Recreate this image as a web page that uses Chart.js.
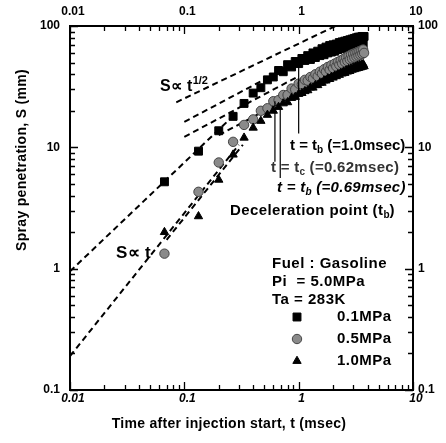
<!DOCTYPE html>
<html><head><meta charset="utf-8">
<script src="https://cdn.jsdelivr.net/npm/chart.js@4.4.0/dist/chart.umd.min.js"></script>
<style>html,body{margin:0;padding:0;background:#fff}#wrap{width:446px;height:443px;position:relative}</style>
</head><body><div id="wrap"><canvas id="c"></canvas></div>
<script>
// ---- data (time in msec, penetration in mm) ----
const times = [0.067,0.133,0.2,0.267,0.333,0.4,0.467,0.533,0.6,0.667,0.733,0.8,0.867,0.933,1.0,1.067,1.133,1.2,1.267,1.333,1.4,1.467,1.533,1.6,1.667,1.733,1.8,1.867,1.933,2.0,2.067,2.133,2.2,2.267,2.333,2.4,2.467,2.533,2.6,2.667,2.733,2.8,2.867,2.933,3.0,3.067,3.133,3.2,3.267,3.333,3.4,3.467,3.533,3.6,3.667,3.733];
const s01MPa = [5.2,9.3,13.7,18,23,28,31,36,38,43, 42,48,46,51,49,54,52,57,53,60, 55,62,57,65,58,67,60,69,61,70, 62,71,64,73,65,74,66,75,67,76, 68,77,68,78,69,79,70,80,71,81, 71,81,72,82,72,82];
const s05MPa = [1.33,4.3,7.5,11.1,15.3,17,20,21,24,24.5, 27,27,30.5,30,33.5,33,36,35.5,38,37, 40,38.5,42,40.5,44,42,46,43.5,47.5,45, 49,46.5,50.5,48,52,49,53.5,50.5,55,51.5, 56.5,53,58,54,59,55,60,56,61,57, 62,58,63,59,64,60];
const s10MPa = [2.0,2.7,5.4,8.7,12,14.5,16.5,18.5,20,21.5, 23,23.5,25.5,26,27.5,28,29,29.5,31,31, 32.5,32.5,34,34,35.5,35.5,37,36.5,38,37.5, 39,38.5,40,39.5,41,40.5,42,41,43,42, 44,42.5,44.5,43.5,45.5,44,46,44.5,47,45, 47.5,45.5,48,46,48.5,46.5];
const seriesLabels = ['0.1MPa','0.5MPa','1.0MPa'];

// S ∝ t reference lines (t, S endpoints)
const linT_01 = [0.01, 0.27];  const linS_01 = [0.95, 18.3];
const linT_a  = [0.01, 0.30];  const linS_a  = [0.19, 10.5];
const linT_b  = [0.07, 0.325]; const linS_b  = [1.73, 10.5];
// S ∝ t^1/2 reference lines
const sqrtT_a = [0.085, 2.1];  const sqrtS_a = [23.5, 100];
const sqrtT_b = [0.1, 1.3];    const sqrtS_b = [16.2, 58.4];
const sqrtT_c = [0.1, 1.0];    const sqrtS_c = [12.2, 38.6];
const sqrtT_d = [0.2, 1.0];    const sqrtS_d = [12.6, 28.2];
// deceleration-point markers
const tbTimes = [1.0, 0.62, 0.69];
const tbTop   = [50, 24, 21];
const tbBot   = [13, 7.6, 5.6];

const xTickValues = [0.01,0.1,1,10];
const xTickLabels = ['0.01','0.1','1','10'];
const yTickValues = [0.1,1,10,100];
const yTickLabels = ['0.1','1','10','100'];
const xTitle = 'Time after injection start, t (msec)';
const yTitle = 'Spray penetration, S (mm)';

// ---- build datasets ----
const pts = (xs, ys) => xs.map((x,i)=>({x, y: ys[i]}));
const dashed = (xs, ys) => ({type:'line', data: pts(xs,ys), borderColor:'#000', borderWidth:2, borderDash:[6,4], pointRadius:0, fill:false, order:5});
const vline = (i) => ({type:'line', data:[{x:tbTimes[i],y:tbTop[i]},{x:tbTimes[i],y:tbBot[i]}], borderColor:'#000', borderWidth:1.2, pointRadius:0, fill:false, order:0});

const FONT = '"Liberation Sans", Arial, Helvetica, sans-serif';
const styles = [
  {pointStyle:'rect', radius:5.6, bg:'#000', border:'#000'},
  {pointStyle:'circle', radius:4.7, bg:'#8a8a8a', border:'#444'},
  {pointStyle:'triangle', radius:4.8, bg:'#000', border:'#000'}
];
const seriesData = [s01MPa, s05MPa, s10MPa];
const markerSets = seriesData.map((s, i) => ({
  type:'scatter', label: seriesLabels[i], data: pts(times, s),
  pointStyle: styles[i].pointStyle, pointRadius: styles[i].radius,
  backgroundColor: styles[i].bg, borderColor: styles[i].border, borderWidth:1, showLine:false, order: 2 - i
}));

function rich(ctx, x, y, parts, size, italic, ls) {
  let cx = x;
  for (const [t,k] of parts) {
    const fs = k==='n' ? size : Math.round(size*0.66);
    ctx.font = (italic?'italic ':'') + 'bold ' + fs + 'px ' + FONT;
    ctx.letterSpacing = (k==='n' ? ls : 0) + 'px';
    const dy = k==='sub' ? size*0.22 : (k==='sup' ? -size*0.42 : 0);
    ctx.fillText(t, cx, y+dy);
    cx += ctx.measureText(t).width;
  }
  ctx.letterSpacing = '0px';
}

const deco = {
  id:'deco',
  afterDatasetsDraw(chart) {
    const ctx = chart.ctx, ca = chart.chartArea, xs = chart.scales.x, ys = chart.scales.y;
    ctx.save();
    ctx.strokeStyle = '#000'; ctx.fillStyle = '#000';
    ctx.lineWidth = 2;
    ctx.strokeRect(ca.left, ca.top, ca.right-ca.left, ca.bottom-ca.top);
    ctx.lineWidth = 1.3;
    for (let d = xs.min; d < xs.max*1.001; d *= 10) {
      for (let m = 1; m <= 9; m++) {
        const v = d*m; if (v > xs.max*1.001) break;
        const px = Math.round(xs.getPixelForValue(v)) + 0.5, len = m===1 ? 8 : 5;
        ctx.beginPath(); ctx.moveTo(px, ca.bottom); ctx.lineTo(px, ca.bottom-len);
        ctx.moveTo(px, ca.top); ctx.lineTo(px, ca.top+len); ctx.stroke();
      }
    }
    for (let d = ys.min; d < ys.max*1.001; d *= 10) {
      for (let m = 1; m <= 9; m++) {
        const v = d*m; if (v > ys.max*1.001) break;
        const py = Math.round(ys.getPixelForValue(v)) + 0.5, len = m===1 ? 8 : 5;
        ctx.beginPath(); ctx.moveTo(ca.left, py); ctx.lineTo(ca.left+len, py);
        ctx.moveTo(ca.right, py); ctx.lineTo(ca.right-len, py); ctx.stroke();
      }
    }
    ctx.textBaseline = 'middle';
    ctx.font = 'bold 12px ' + FONT;
    yTickValues.forEach((v,i) => {
      const py = ys.getPixelForValue(v);
      ctx.textAlign = 'right'; ctx.fillText(yTickLabels[i], ca.left-10, py);
      ctx.textAlign = 'left'; ctx.fillText(yTickLabels[i], ca.right+5, py);
    });
    xTickValues.forEach((v,i) => {
      const px = xs.getPixelForValue(v);
      ctx.textAlign = 'center';
      ctx.font = 'bold 12px ' + FONT; ctx.fillText(xTickLabels[i], px+3, 12);
      ctx.font = 'italic bold 12px ' + FONT; ctx.fillText(xTickLabels[i], px+3, 399);
    });
    ctx.font = 'bold 14px ' + FONT; ctx.textAlign = 'center';
    ctx.letterSpacing = '0.3px';
    ctx.fillText(xTitle, 229, 424);
    ctx.save(); ctx.translate(22, 160); ctx.rotate(-Math.PI/2); ctx.fillText(yTitle, 0, 0); ctx.restore();
    ctx.letterSpacing = '0px';
    ctx.textAlign = 'left'; ctx.textBaseline = 'alphabetic';
    rich(ctx, 160, 91, [['S\u221D t','n'],['1/2','sup']], 16, false, 0.3);
    rich(ctx, 116, 258, [['S\u221D t','n']], 17, false, 0.3);
    rich(ctx, 290, 150, [['t = t','n'],['b','sub'],[' (=1.0msec)','n']], 15, false, 0);
    ctx.fillStyle = '#333';
    rich(ctx, 271, 172, [['t = t','n'],['c','sub'],[' (=0.62msec)','n']], 15, false, 0.3);
    ctx.fillStyle = '#000';
    rich(ctx, 277, 192, [['t = t','n'],['b','sub'],[' (=0.69msec)','n']], 15, true, 0.3);
    rich(ctx, 230, 215, [['Deceleration point (t','n'],['b','sub'],[')','n']], 15, false, 0.4);
    ctx.font = 'bold 15px ' + FONT;
    ctx.letterSpacing = '0.5px';
    ctx.fillText('Fuel : Gasoline', 272, 268);
    ctx.fillText('Pi  = 5.0MPa', 272, 286);
    ctx.fillText('Ta = 283K', 272, 304);
    const ly = [317, 339, 361];
    styles.forEach((st, i) => {
      ctx.fillStyle = st.bg; ctx.strokeStyle = st.border; ctx.lineWidth = 1;
      Chart.helpers.drawPoint(ctx, {pointStyle: st.pointStyle, radius: st.radius, rotation:0, borderWidth:1}, 297, ly[i]);
      ctx.fillStyle = '#000'; ctx.font = 'bold 15px ' + FONT; ctx.textBaseline = 'middle';
      ctx.fillText(seriesLabels[i], 337, ly[i]);
    });
    ctx.letterSpacing = '0px';
    ctx.restore();
  }
};

const logAxis = (pos, min, max, fit) => ({type:'logarithmic', position: pos, min, max,
  grid:{display:false}, border:{display:false}, ticks:{display:false}, afterFit: fit});

new Chart(document.getElementById('c'), {
  type:'scatter',
  data:{datasets:[
    ...markerSets,
    dashed(linT_01, linS_01), dashed(linT_a, linS_a), dashed(linT_b, linS_b),
    dashed(sqrtT_a, sqrtS_a), dashed(sqrtT_b, sqrtS_b), dashed(sqrtT_c, sqrtS_c), dashed(sqrtT_d, sqrtS_d),
    vline(0), vline(1), vline(2)
  ]},
  options:{
    responsive:true, maintainAspectRatio:false, animation:false,
    layout:{padding:0},
    plugins:{legend:{display:false}, tooltip:{enabled:false}},
    scales:{
      x: logAxis('bottom', 0.01, 10, s => { s.height = 53; }),
      x2: logAxis('top', 0.01, 10, s => { s.height = 26; }),
      y: logAxis('left', 0.1, 100, s => { s.width = 70; }),
      y2: logAxis('right', 0.1, 100, s => { s.width = 33; })
    }
  },
  plugins:[deco]
});
</script></body></html>
